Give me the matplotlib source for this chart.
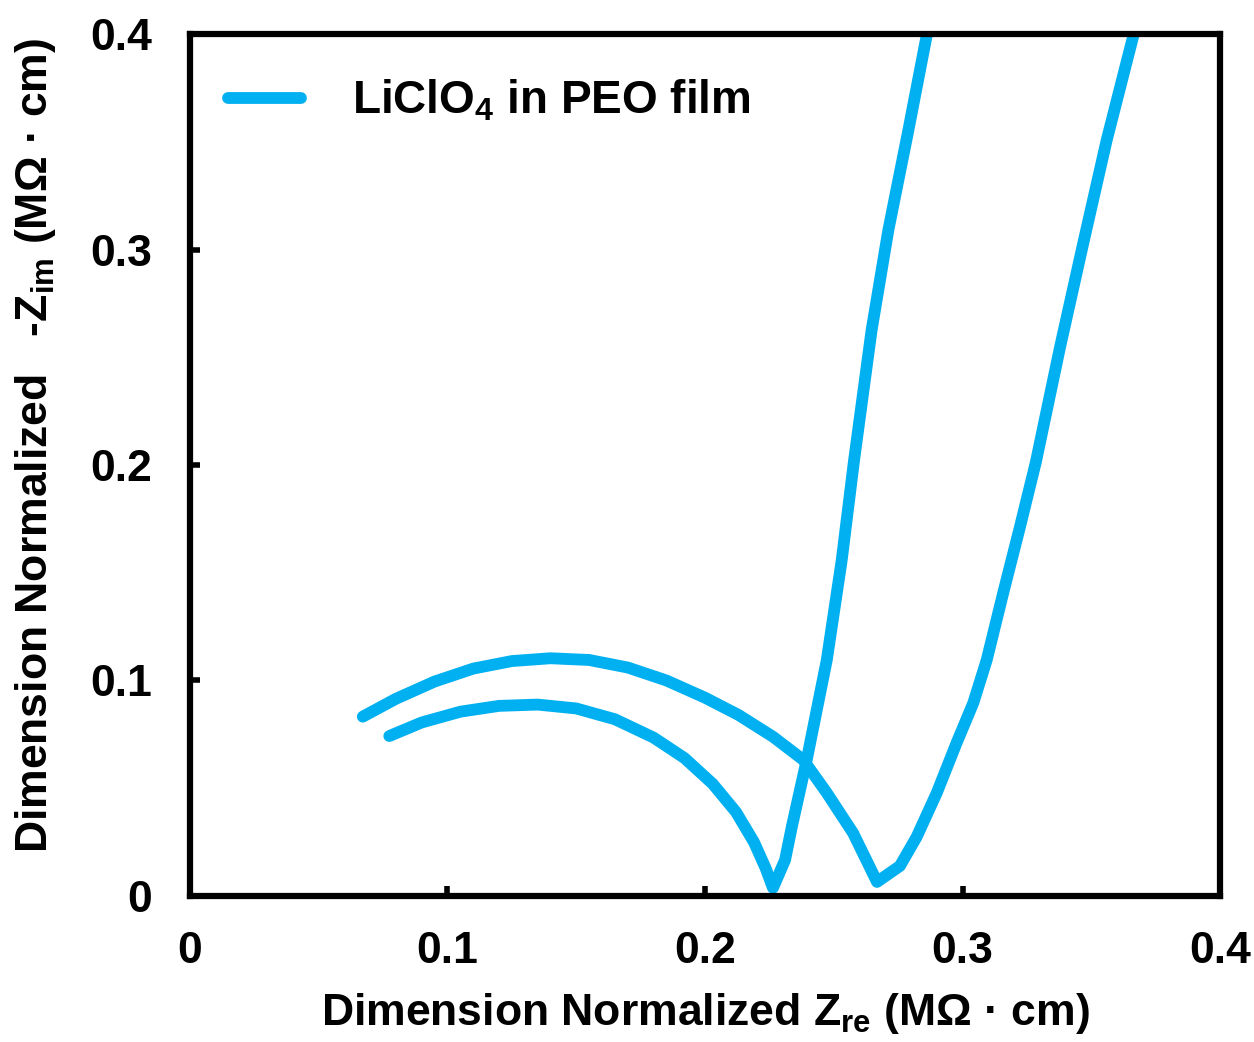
import matplotlib.pyplot as plt

plt.rcParams["font.family"] = "Liberation Sans"
plt.rcParams["font.weight"] = "bold"
plt.rcParams["mathtext.fontset"] = "custom"
plt.rcParams["mathtext.rm"] = "Liberation Sans:bold"
plt.rcParams["mathtext.bf"] = "Liberation Sans:bold"
plt.rcParams["mathtext.default"] = "bf"

# lower arc + left spike
zre_a = [0.0774, 0.0900, 0.1050, 0.1200, 0.1350, 0.1500, 0.1650, 0.1800, 0.1920,
         0.2030, 0.2120, 0.2190, 0.2235, 0.2264, 0.2311, 0.2337, 0.2395, 0.2473,
         0.2531, 0.2579, 0.2647, 0.2712, 0.2790, 0.2862]
zim_a = [0.0742, 0.0805, 0.0855, 0.0882, 0.0888, 0.0870, 0.0820, 0.0735, 0.0640,
         0.0520, 0.0390, 0.0250, 0.0130, 0.0037, 0.0167, 0.0320, 0.0631, 0.1095,
         0.1559, 0.2023, 0.2626, 0.3090, 0.3555, 0.4000]

# upper arc + right spike
zre_b = [0.0671, 0.0800, 0.0950, 0.1100, 0.1250, 0.1400, 0.1550, 0.1700, 0.1850,
         0.2000, 0.2130, 0.2265, 0.2382, 0.2473, 0.2575, 0.2668, 0.2757, 0.2822,
         0.2900, 0.2977, 0.3042, 0.3094, 0.3158, 0.3223, 0.3285, 0.3379, 0.3469,
         0.3560, 0.3665]
zim_b = [0.0832, 0.0915, 0.0995, 0.1055, 0.1090, 0.1103, 0.1095, 0.1060, 0.1000,
         0.0920, 0.0840, 0.0738, 0.0631, 0.0478, 0.0292, 0.0065, 0.0139, 0.0274,
         0.0478, 0.0710, 0.0896, 0.1095, 0.1406, 0.1712, 0.2014, 0.2548, 0.3030,
         0.3508, 0.4000]

ticks = [0, 0.1, 0.2, 0.3, 0.4]
tick_labels = ["0", "0.1", "0.2", "0.3", "0.4"]
label = r"LiClO$_{4}$ in PEO film"
color = "#00B0F0"

fig = plt.figure(figsize=(12.54, 10.42), dpi=100)
ax = fig.add_axes([0.1515, 0.1402, 0.8214, 0.8271])

ax.plot(zre_a, zim_a, color=color, lw=8.5, solid_capstyle="round",
        solid_joinstyle="round", label=label)
ax.plot(zre_b, zim_b, color=color, lw=8.5, solid_capstyle="round",
        solid_joinstyle="round")

ax.set_xlim(0, 0.4)
ax.set_ylim(0, 0.4)
ax.set_xticks(ticks)
ax.set_xticklabels(tick_labels)
ax.set_yticks(ticks)
ax.set_yticklabels(tick_labels)
ax.tick_params(direction="in", length=7, width=4, labelsize=32)
ax.tick_params(axis="x", pad=25)
ax.tick_params(axis="y", pad=27)
for s in ax.spines.values():
    s.set_linewidth(4.5)

ax.set_xlabel(r"Dimension Normalized Z$_{re}$ (MΩ · cm)", fontsize=32,
              fontweight="bold", labelpad=14)
ax.set_ylabel(r"Dimension Normalized   -Z$_{im}$ (MΩ · cm)", fontsize=32,
              fontweight="bold")
ax.yaxis.set_label_coords(-0.128, 0.523)

ax.legend(loc="center left", bbox_to_anchor=(0.0369, 0.9225), frameon=False,
          prop={"size": 33, "weight": "bold"}, handlelength=1.6,
          handletextpad=1.1, borderpad=0, borderaxespad=0)

fig.savefig("out.png", dpi=100)
